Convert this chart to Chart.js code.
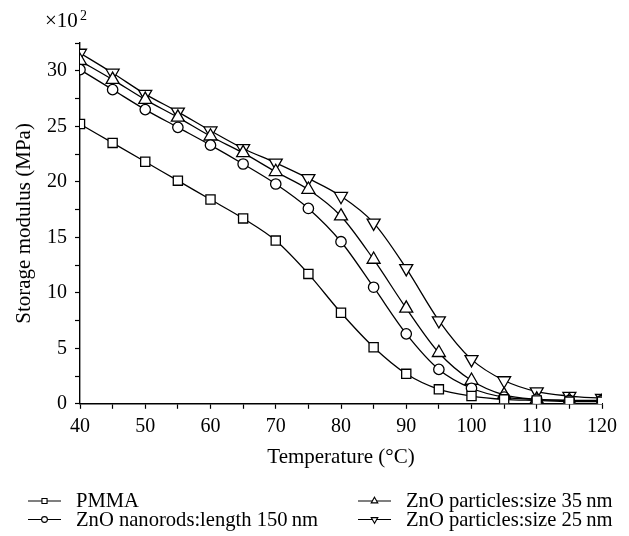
<!DOCTYPE html>
<html>
<head>
<meta charset="utf-8">
<script src="https://cdn.jsdelivr.net/npm/chart.js@4.4.1/dist/chart.umd.min.js"></script>
<style>
  body { margin: 0; background: #fff; }
  canvas { display: block; }
</style>
</head>
<body>
<canvas id="grafico" width="629" height="536"></canvas>
<script>
// datos (modulo x10^2 MPa)
var temperaturas = [40, 45, 50, 55, 60, 65, 70, 75, 80, 85, 90, 95, 100, 105, 110, 115, 120];
var pmma        = [25.2, 23.5, 21.8, 20.1, 18.4, 16.7, 14.7, 11.7, 8.2, 5.1, 2.7, 1.3, 0.7, 0.4, 0.3, 0.2, 0.2];
var nanorods150 = [30.1, 28.3, 26.5, 24.9, 23.3, 21.6, 19.8, 17.6, 14.6, 10.5, 6.3, 3.1, 1.4, 0.6, 0.4, 0.3, 0.3];
var particulas35 = [30.9, 29.2, 27.4, 25.8, 24.1, 22.6, 20.9, 19.3, 16.9, 13.0, 8.6, 4.6, 2.1, 0.8, 0.4, 0.3, 0.2];
var particulas25 = [31.6, 29.8, 27.9, 26.3, 24.6, 23.0, 21.7, 20.3, 18.7, 16.3, 12.2, 7.5, 4.0, 2.1, 1.1, 0.7, 0.5];
var nombres = ["PMMA", "ZnO nanorods:length 150\u2009nm", "ZnO particles:size 35\u2009nm", "ZnO particles:size 25\u2009nm"];
var xEtiquetas = [40, 50, 60, 70, 80, 90, 100, 110, 120];
var yEtiquetas = [0, 5, 10, 15, 20, 25, 30];

var fuente = "Liberation Serif";

function serie(valores, nombre, estilo, radio, rot) {
    return {
        label: nombre,
        data: temperaturas.map(function (t, i) { return {x: t, y: valores[i]}; }),
        borderColor: "#000",
        borderWidth: 1.3,
        backgroundColor: "#fff",
        pointStyle: estilo,
        pointRotation: rot || 0,
        pointRadius: radio,
        pointBorderWidth: 1.3,
        pointBorderColor: "#000",
        pointBackgroundColor: "#fff",
        cubicInterpolationMode: "monotone",
        fill: false
    };
}

var datasets = [
    serie(pmma, nombres[0], "rect", 6.5),
    serie(nanorods150, nombres[1], "circle", 5.2),
    serie(particulas35, nombres[2], "triangle", 7.5),
    serie(particulas25, nombres[3], "triangle", 7.5, 180)
];

// leyenda y factor x10^2 dibujados a mano
var extras = {
    id: "extras",
    afterDraw: function (chart) {
        var ctx = chart.ctx;
        ctx.save();
        ctx.fillStyle = "#000";
        ctx.textBaseline = "alphabetic";
        ctx.font = "21px " + fuente;
        ctx.fillText("\u00d710", 45, 27);
        ctx.font = "14px " + fuente;
        ctx.fillText("2", 80, 20);

        var pos = [[28, 501], [28, 519.5], [358, 501], [358, 519.5]];
        var tamanos = [3.6, 2.9, 3.8, 3.8];
        [0, 1, 2, 3].forEach(function (k) {
            var ds = chart.data.datasets[k];
            var px = pos[k][0], py = pos[k][1];
            ctx.strokeStyle = "#000";
            ctx.lineWidth = 1.1;
            ctx.beginPath();
            ctx.moveTo(px, py);
            ctx.lineTo(px + 33, py);
            ctx.stroke();
            ctx.fillStyle = "#fff";
            Chart.helpers.drawPoint(ctx, {
                pointStyle: ds.pointStyle,
                rotation: ds.pointRotation,
                radius: tamanos[k],
                borderWidth: 1
            }, px + 16.5, py);
            ctx.fillStyle = "#000";
            ctx.font = "20.6px " + fuente;
            ctx.textBaseline = "middle";
            ctx.fillText(ds.label, px + 48, py + 1);
        });
        ctx.restore();
    }
};

new Chart(document.getElementById("grafico"), {
    type: "line",
    data: {datasets: datasets},
    options: {
        responsive: false,
        animation: false,
        layout: {padding: {top: 43, right: 27, bottom: 57, left: 0}},
        plugins: {legend: {display: false}, tooltip: {enabled: false}},
        scales: {
            x: {
                type: "linear",
                min: 40, max: 120,
                grid: {drawOnChartArea: false, color: "#000", tickLength: 5, tickWidth: 1.2},
                border: {color: "#000", width: 1.4},
                ticks: {
                    stepSize: 5,
                    autoSkip: false,
                    maxRotation: 0,
                    color: "#000",
                    font: {family: fuente, size: 20},
                    padding: 6,
                    callback: function (v) { return xEtiquetas.indexOf(v) >= 0 ? String(v) : ""; }
                },
                title: {display: true, text: "Temperature (\u00b0C)", color: "#000", font: {family: fuente, size: 21}, padding: {top: 0, bottom: 9}}
            },
            y: {
                min: 0, max: 32.5,
                afterFit: function (scale) { scale.width = 80; },
                grid: {drawOnChartArea: false, color: "#000", tickLength: 5, tickWidth: 1.2},
                border: {color: "#000", width: 1.4},
                ticks: {
                    stepSize: 2.5,
                    autoSkip: false,
                    color: "#000",
                    font: {family: fuente, size: 20},
                    padding: 8,
                    callback: function (v) { return yEtiquetas.indexOf(v) >= 0 ? String(v) : ""; }
                },
                title: {display: true, text: "Storage modulus (MPa)", color: "#000", font: {family: fuente, size: 21}, padding: {top: 12, bottom: 0}}
            }
        }
    },
    plugins: [extras]
});
</script>
</body>
</html>
